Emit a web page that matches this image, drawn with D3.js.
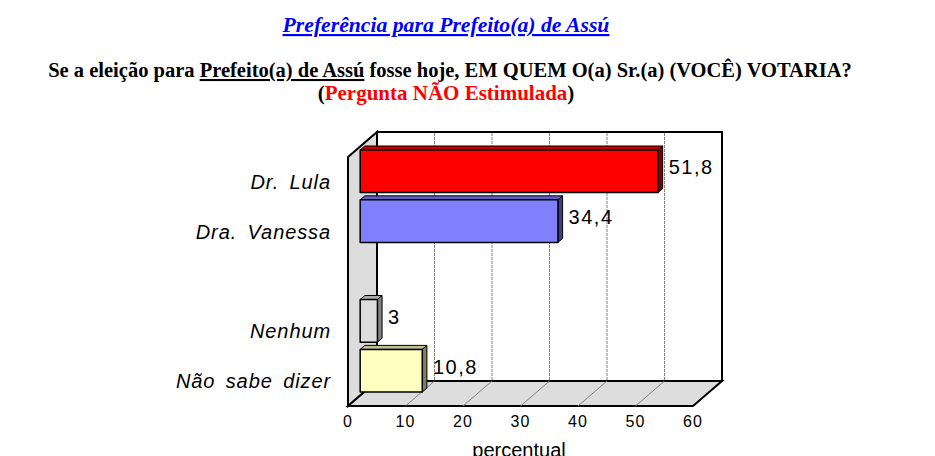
<!DOCTYPE html>
<html>
<head>
<meta charset="utf-8">
<script src="https://cdn.jsdelivr.net/npm/d3@7"></script>
<style>
  body { margin: 0; background: #fff; }
  svg { display: block; }
</style>
</head>
<body>
<script>
// data
const categories = ["Dr. Lula", "Dra. Vanessa", "", "Nenhum", "Não sabe dizer"];
const values = [51.8, 34.4, null, 3, 10.8];
const valueLabels = ["51,8", "34,4", "", "3", "10,8"];
const fills = ["#ff0000", "#8080ff", null, "#dddddd", "#ffffc0"];
const sides = ["#800000", "#404080", null, "#808080", "#808060"];
const tops = ["#c00000", "#6060c0", null, "#b0b0b0", "#c0c090"];
const xTicks = [0, 10, 20, 30, 40, 50, 60];

const W = 935, H = 456;
const svg = d3.select('body').append('svg')
    .attr('width', W).attr('height', H);

// 3d frame: front plane + depth vector
const front = {left: 348, top: 157, bottom: 406};
const depth = [29, -25];
const x = d3.scaleLinear().domain([0, 60]).range([front.left, front.left + 345]);
const y = d3.scaleBand().domain(categories.map((d, i) => i))
    .range([front.top, front.bottom])
    .paddingInner(0.145).paddingOuter(0.07);

// project a point (value, plane y, depth t) to the screen
const P = (vx, py, t) => [x(vx) + depth[0] * t, py + depth[1] * t];
const poly = pts => 'M' + pts.map(p => p.join(',')).join('L') + 'Z';

const frame = svg.append('g').attr('stroke', '#000').attr('stroke-width', 2);

// back wall
frame.append('path')
    .attr('d', poly([P(0, front.top, 1), P(60, front.top, 1), P(60, front.bottom, 1), P(0, front.bottom, 1)]))
    .attr('fill', '#fff');
// left wall
frame.append('path')
    .attr('d', poly([P(0, front.top, 0), P(0, front.top, 1), P(0, front.bottom, 1), P(0, front.bottom, 0)]))
    .attr('fill', '#dddddd');
// floor
frame.append('path')
    .attr('d', poly([P(0, front.bottom, 0), P(0, front.bottom, 1), P(60, front.bottom, 1), P(60, front.bottom, 0)]))
    .attr('fill', '#dddddd');

// grid lines on back wall and floor
const grid = svg.append('g').attr('stroke', '#808080').attr('stroke-width', 1);
grid.selectAll('line.gv')
    .data(xTicks.slice(1, -1))
    .join('line')
    .attr('class', 'gv')
    .attr('stroke-dasharray', '3,1')
    .attr('x1', d => P(d, front.top, 1)[0]).attr('y1', d => P(d, front.top, 1)[1] + 1)
    .attr('x2', d => P(d, front.bottom, 1)[0]).attr('y2', d => P(d, front.bottom, 1)[1] - 1);
grid.selectAll('line.gf')
    .data(xTicks.slice(1, -1))
    .join('line')
    .attr('class', 'gf')
    .attr('x1', d => P(d, front.bottom, 0)[0]).attr('y1', d => P(d, front.bottom, 0)[1])
    .attr('x2', d => P(d, front.bottom, 1)[0]).attr('y2', d => P(d, front.bottom, 1)[1]);

// bars
const t0 = 0.42, t1 = 0.58;
const rows = categories.map((c, i) => ({c, v: values[i], i})).filter(d => d.v != null);
const bars = svg.append('g').attr('stroke', '#000').attr('stroke-width', 1.5).attr('stroke-linejoin', 'round');
rows.forEach(d => {
    const y0 = y(d.i), y1 = y(d.i) + y.bandwidth();
    const g = bars.append('g');
    // top face
    g.append('path')
        .attr('d', poly([P(0, y0, t0), P(0, y0, t1), P(d.v, y0, t1), P(d.v, y0, t0)]))
        .attr('fill', tops[d.i]).attr('stroke-width', 1);
    // side face
    g.append('path')
        .attr('d', poly([P(d.v, y0, t0), P(d.v, y0, t1), P(d.v, y1, t1), P(d.v, y1, t0)]))
        .attr('fill', sides[d.i]).attr('stroke-width', 1);
    // front face
    g.append('path')
        .attr('d', poly([P(0, y0, t0), P(d.v, y0, t0), P(d.v, y1, t0), P(0, y1, t0)]))
        .attr('fill', fills[d.i]);
});

// value labels
svg.append('g')
    .selectAll('text')
    .data(rows)
    .join('text')
    .attr('x', d => P(d.v, 0, t1)[0] + 6)
    .attr('y', d => P(0, y(d.i) + y.bandwidth() / 2, t1)[1])
    .attr('dominant-baseline', 'central')
    .attr('font-family', 'Liberation Sans, Arial, sans-serif')
    .attr('font-size', 20)
    .attr('letter-spacing', 1.5)
    .text(d => valueLabels[d.i]);

// category labels
svg.append('g')
    .selectAll('text')
    .data(rows)
    .join('text')
    .attr('x', 331)
    .attr('y', d => y(d.i) + y.bandwidth() / 2)
    .attr('dominant-baseline', 'central')
    .attr('text-anchor', 'end')
    .attr('font-family', 'Liberation Sans, Arial, sans-serif')
    .attr('font-style', 'italic')
    .attr('font-size', 20)
    .attr('letter-spacing', 0.9)
    .attr('word-spacing', 4)
    .text(d => d.c);

// x tick labels
svg.append('g')
    .selectAll('text')
    .data(xTicks)
    .join('text')
    .attr('x', d => x(d))
    .attr('y', 427)
    .attr('text-anchor', 'middle')
    .attr('font-family', 'Liberation Sans, Arial, sans-serif')
    .attr('font-size', 16)
    .attr('letter-spacing', 1)
    .text(d => d);

svg.append('text')
    .attr('x', 519).attr('y', 457)
    .attr('text-anchor', 'middle')
    .attr('font-family', 'Liberation Sans, Arial, sans-serif')
    .attr('font-size', 20)
    .text('percentual');

// titles
const serif = 'Liberation Serif, DejaVu Serif, serif';
svg.append('text')
    .attr('x', 446).attr('y', 32)
    .attr('text-anchor', 'middle')
    .attr('font-family', serif)
    .attr('font-weight', 'bold').attr('font-style', 'italic')
    .attr('font-size', 21.7)
    .attr('fill', '#0000ff')
    .attr('text-decoration', 'underline')
    .text('Preferência para Prefeito(a) de Assú');

const sub = svg.append('text')
    .attr('x', 450).attr('y', 77)
    .attr('text-anchor', 'middle')
    .attr('font-family', serif)
    .attr('font-weight', 'bold')
    .attr('font-size', 20.5);
sub.append('tspan').text('Se a eleição para ');
sub.append('tspan').attr('text-decoration', 'underline').text('Prefeito(a) de Assú');
sub.append('tspan').text(' fosse hoje, EM QUEM O(a) Sr.(a) (VOCÊ) VOTARIA?');

const sub2 = svg.append('text')
    .attr('x', 446).attr('y', 100)
    .attr('text-anchor', 'middle')
    .attr('font-family', serif)
    .attr('font-weight', 'bold')
    .attr('font-size', 21);
sub2.append('tspan').text('(');
sub2.append('tspan').attr('fill', '#ff0000').text('Pergunta NÃO Estimulada');
sub2.append('tspan').text(')');
</script>
</body>
</html>
